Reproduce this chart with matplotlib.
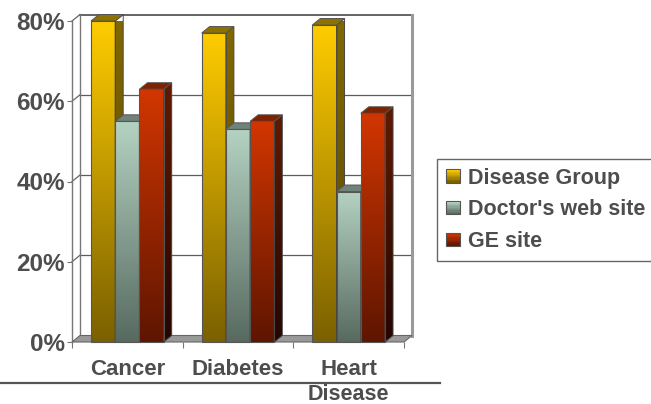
import numpy as np
import matplotlib
matplotlib.use("Agg")
import matplotlib.pyplot as plt
from matplotlib.patches import Polygon, Rectangle, Patch
from matplotlib.colors import LinearSegmentedColormap, to_rgb
from matplotlib.legend_handler import HandlerBase
from matplotlib.lines import Line2D

# ---- data -------------------------------------------------------------
categories = ["Cancer", "Diabetes", "Heart"]
series_names = ["Disease Group", "Doctor's web site", "GE site"]
disease_group = [80, 77, 79]
doctors_site = [55, 53, 37.5]
ge_site = [63, 55, 57]
y_ticks = [0, 20, 40, 60, 80]
y_tick_labels = ["0%", "20%", "40%", "60%", "80%"]
axis_title = "Disease"

series_values = [disease_group, doctors_site, ge_site]

# ---- styles -----------------------------------------------------------
# (front top, front bottom, side top, side bottom, top face)
styles = [
    ("#FFCC00", "#7A6000", "#826800", "#5A4600", "#8E7200"),
    ("#B4D2C2", "#586A60", "#66766E", "#3E4A44", "#71827A"),
    ("#D23600", "#5E1500", "#601A00", "#250500", "#7E2200"),
]
TEXT = "#4d4d4d"
plt.rcParams["font.family"] = ["Liberation Sans", "DejaVu Sans"]
plt.rcParams["font.weight"] = "bold"

W, H = 651, 404
fig = plt.figure(figsize=(W / 100, H / 100), dpi=100)
left_px, right_px, top_px, bottom_px = 72, 404, 21, 342
ax = fig.add_axes([left_px / W, 1 - bottom_px / H,
                   (right_px - left_px) / W, (bottom_px - top_px) / H])
ax.patch.set_visible(False)
for s in ax.spines.values():
    s.set_visible(False)

XMIN, XMAX, YMAX = -0.5, 2.5, 80
# depth of the 3-D box, converted from pixels into data units
ddx = 8 / ((right_px - left_px) / (XMAX - XMIN))
ddy = 6.5 / ((bottom_px - top_px) / YMAX)


def mix(c1, c2, t):
    a, b = np.array(to_rgb(c1)), np.array(to_rgb(c2))
    return tuple(a + (b - a) * t)


def vgrad(bottom, top):
    return LinearSegmentedColormap.from_list("g", [bottom, top])


grad = np.linspace(0, 1, 256).reshape(-1, 1)

# ---- walls and floor -------------------------------------------------
ax.add_patch(Rectangle((XMIN + ddx, ddy), XMAX - XMIN, YMAX, fc="white",
                       ec="none", zorder=0.5, clip_on=False))
for v in y_ticks[1:]:
    ax.plot([XMIN + ddx, XMAX + ddx], [v + ddy, v + ddy],
            color="#4a4a4a" if v == YMAX else "#5c5c5c",
            lw=1.2 if v == YMAX else 0.9, zorder=1, clip_on=False)
    ax.plot([XMIN, XMIN + ddx], [v, v + ddy], color="#666666", lw=0.9,
            zorder=1, clip_on=False)
ax.plot([XMIN + ddx] * 2, [ddy, YMAX + ddy], color="#777777", lw=1,
        zorder=1, clip_on=False)
ax.plot([XMAX + ddx] * 2, [ddy, YMAX + ddy], color="#9a9a9a", lw=2.2,
        zorder=1, clip_on=False)
ax.plot([XMIN, XMIN], [0, YMAX], color="#777777", lw=1, zorder=1,
        clip_on=False)
ax.add_patch(Polygon([(XMIN, 0), (XMAX, 0), (XMAX + ddx, ddy),
                      (XMIN + ddx, ddy)], closed=True, fc="#999999",
                     ec="#666666", lw=0.8, zorder=1.5, clip_on=False))

# ---- bars ------------------------------------------------------------
bw = 0.219
x = np.arange(len(categories))
containers = []
for j, vals in enumerate(series_values):
    bc = ax.bar(x + (j - 1) * bw, vals, width=bw, facecolor="none",
                edgecolor="#555555", linewidth=0.8, label=series_names[j])
    containers.append(bc)

for i in range(len(categories)):
    for j in range(len(series_values)):
        ft, fb, st, sb, tc = styles[j]
        rect = containers[j].patches[i]
        z = 2 + (i * 3 + j) * 0.1
        x0 = rect.get_x()
        x1 = x0 + rect.get_width()
        h = rect.get_height()
        rect.set_zorder(z + 0.03)
        rect.set_clip_on(False)
        im = ax.imshow(grad, extent=(x0, x1, 0, h), origin="lower",
                       aspect="auto", cmap=vgrad(fb, ft), zorder=z + 0.01,
                       interpolation="bilinear")
        im.set_clip_path(rect)
        side = Polygon([(x1, 0), (x1 + ddx, ddy), (x1 + ddx, h + ddy), (x1, h)],
                       closed=True, fc="none", ec="#444444", lw=0.7,
                       zorder=z + 0.03, clip_on=False)
        ax.add_patch(side)
        sim = ax.imshow(grad, extent=(x1, x1 + ddx, 0, h + ddy), origin="lower",
                        aspect="auto", cmap=vgrad(sb, st), zorder=z + 0.01,
                        interpolation="bilinear")
        sim.set_clip_path(side)
        ax.add_patch(Polygon([(x0, h), (x1, h), (x1 + ddx, h + ddy),
                              (x0 + ddx, h + ddy)], closed=True, fc=tc,
                             ec="#555555", lw=0.7, zorder=z + 0.03,
                             clip_on=False))

ax.set_xlim(XMIN, XMAX)
ax.set_ylim(0, YMAX)

# ---- axes ticks and labels ---------------------------------------------
ax.set_yticks(y_ticks, y_tick_labels)
ax.tick_params(axis="y", length=3.6, width=0.8, color="#777777", pad=1.5,
               labelsize=17.5, labelcolor=TEXT)
ax.set_xticks(x, categories)
ax.set_xticks([XMIN + k for k in range(len(categories) + 1)], minor=True)
ax.tick_params(axis="x", which="major", length=0, pad=12, labelsize=16,
               labelcolor=TEXT)
ax.tick_params(axis="x", which="minor", length=4.3, width=0.8,
               color="#777777")
for lab in ax.get_xticklabels() + ax.get_yticklabels():
    lab.set_fontweight("bold")

fig.add_artist(Line2D([0, 440 / W], [1 - 382.5 / H] * 2,
                      transform=fig.transFigure, color="#555555", lw=1.6))
fig.text(348 / W, 1 - 399.5 / H, axis_title, ha="center", va="baseline",
         fontsize=15.5, fontweight="bold", color=TEXT)


# ---- legend ----------------------------------------------------------
class GradientSwatch(HandlerBase):
    def __init__(self, c_top, c_bottom, n=10):
        super().__init__()
        self.c_top, self.c_bottom, self.n = c_top, c_bottom, n

    def create_artists(self, legend, orig_handle, xdescent, ydescent,
                       width, height, fontsize, trans):
        arts = []
        for k in range(self.n):
            col = mix(self.c_bottom, self.c_top, k / (self.n - 1))
            arts.append(Rectangle((-xdescent, -ydescent + height * k / self.n),
                                  width, height / self.n + 0.3, fc=col,
                                  ec="none", transform=trans))
        arts.append(Rectangle((-xdescent, -ydescent), width, height,
                              fill=False, ec="#555555", lw=0.8,
                              transform=trans))
        return arts


handles = [Patch(label=n) for n in series_names]
hmap = {h: GradientSwatch(styles[k][0], styles[k][1])
        for k, h in enumerate(handles)}
leg = ax.legend(handles=handles, labels=series_names, handler_map=hmap,
                loc="upper left", bbox_to_anchor=(437 / W, 1 - 159 / H, 0.6, 0),
                bbox_transform=fig.transFigure, mode="expand",
                borderaxespad=0, fontsize=15.5, handlelength=0.65,
                handleheight=0.56, handletextpad=0.38, labelspacing=0.5,
                borderpad=0.4, fancybox=False, framealpha=1,
                edgecolor="#666666")
leg.get_frame().set_linewidth(1)
for t in leg.get_texts():
    t.set_color(TEXT)
    t.set_fontweight("bold")

fig.savefig("out.png", dpi=100)
